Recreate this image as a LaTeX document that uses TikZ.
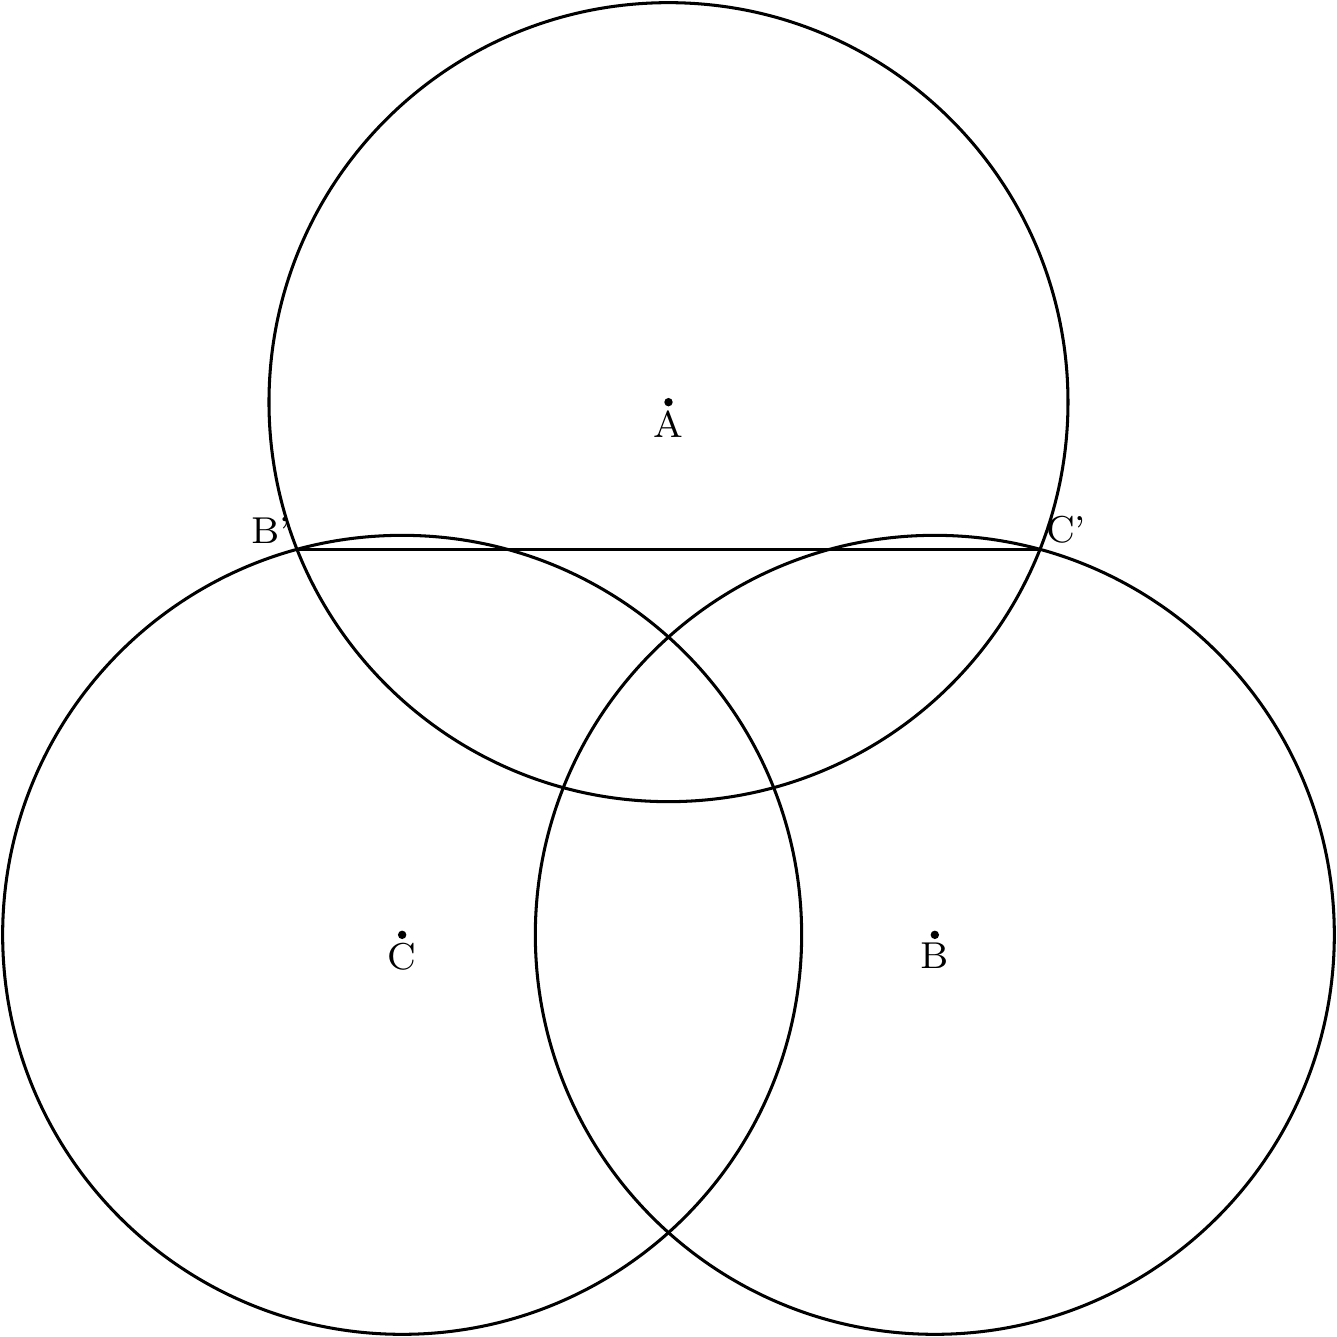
\documentclass[tikz,border=0pt]{standalone}
\usepackage{amsmath}
\usepackage{tikz}

\begin{document}
\begin{tikzpicture}[line width=0.65pt, font=\footnotesize,
  pointdot/.style={fill=black, draw=none},
  lbl/.style={inner sep=1.5pt}]
\useasboundingbox (-5.02, -3.02) rectangle (5.02, 7.02);

\coordinate (A) at (0, 4);
\coordinate (B) at (2, 0);
\coordinate (C) at (-2, 0);
\coordinate (Bp) at (-2.789, 2.894);
\coordinate (Cp) at (2.789, 2.894);

\draw (A) circle (3);
\draw (B) circle (3);
\draw (C) circle (3);

\draw (Bp) -- (Cp);

\fill[pointdot] (A) circle (0.9pt) node[below, lbl] (labA) {A};
\fill[pointdot] (B) circle (0.9pt) node[below, lbl] (labB) {B};
\fill[pointdot] (C) circle (0.9pt) node[below, lbl] (labC) {C};

\node[above left, inner sep=1pt] (labBp) at (Bp) {B'};
\node[above right, inner sep=1pt] (labCp) at (Cp) {C'};
\end{tikzpicture}
\end{document}
